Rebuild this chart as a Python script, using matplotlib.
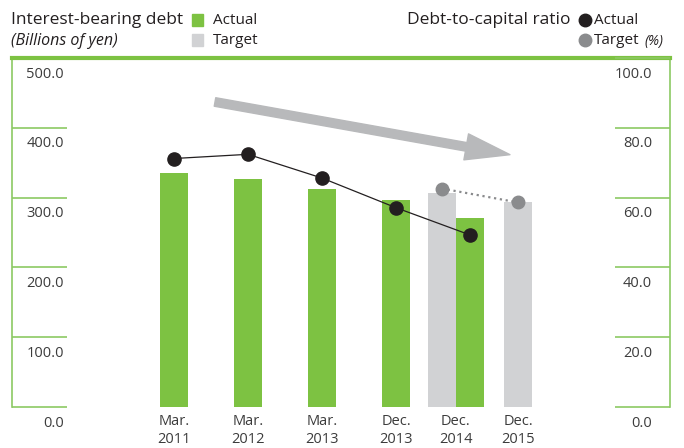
#债务图：有息负债（柱状）与负债资本比率（折线）
import numpy as np
import matplotlib
matplotlib.use('Agg')
import matplotlib.pyplot as plt
import matplotlib.transforms as mtransforms
from matplotlib.patches import Rectangle
from matplotlib.lines import Line2D

plt.rcParams['font.family'] = ['Open Sans', 'DejaVu Sans']

#数据
categories = ['Mar.\n2011', 'Mar.\n2012', 'Mar.\n2013', 'Dec.\n2013', 'Dec.\n2014', 'Dec.\n2015']
debt_actual = [335, 326, 313, 297, 271]      # Mar.2011 ~ Dec.2014
debt_target = [306, 293]                     # Dec.2014, Dec.2015
ratio_actual = [71.2, 72.4, 65.6, 57.1, 49.3]
ratio_target = [62.6, 58.6]
left_ticks = [0, 100, 200, 300, 400, 500]
right_ticks = [0, 20, 40, 60, 80, 100]

#位置
x_actual = np.array([0, 1, 2, 3, 4])
x_target = np.array([3.62, 4.65])
x_labels = [0, 1, 2, 3, 3.81, 4.65]
bar_w = 0.38

GREEN = '#7dc242'
FRAME = '#8cc963'
GREY_BAR = '#d1d2d4'
TEXT = '#231f20'
TICK = '#3c3c3c'

W, H = 684, 448
fig = plt.figure(figsize=(W / 100, H / 100), dpi=100)
ax = fig.add_axes([12 / W, (H - 407) / H, 658 / W, 349 / H])
xmin, xmax = (12 - 174) / 74, (670 - 174) / 74
ax.set_xlim(xmin, xmax)
ax.set_ylim(0, 500)
ax2 = ax.twinx()
ax2.set_ylim(0, 100)

#边框
ax.spines['bottom'].set_visible(False)
ax.spines['top'].set_color(GREEN)
ax.spines['top'].set_linewidth(3)
ax.spines['left'].set_color(FRAME)
ax.spines['left'].set_linewidth(1.2)
ax.spines['right'].set_color(FRAME)
ax.spines['right'].set_linewidth(1.2)
for s in ax2.spines.values():
    s.set_visible(False)

stub = 55 / 74
ax.hlines(left_ticks, xmin, xmin + stub, color=FRAME, lw=1.2, clip_on=False)
ax2.hlines(right_ticks, xmax - stub, xmax, color=FRAME, lw=1.2, clip_on=False)

#刻度标签
off = mtransforms.ScaledTranslation(0, -16 / 100, fig.dpi_scale_trans)
tl = mtransforms.blended_transform_factory(fig.transFigure, ax.transData) + off
tr = mtransforms.blended_transform_factory(fig.transFigure, ax2.transData) + off
for v in left_ticks:
    ax.text(64 / W, v, f'{v:.1f}', transform=tl, ha='right', va='center', fontsize=10.5, color=TICK)
for v in right_ticks:
    ax2.text(652 / W, v, f'{v:.1f}', transform=tr, ha='right', va='center', fontsize=10.5, color=TICK)

ax.set_yticks([])
ax2.set_yticks([])
ax.set_xticks(x_labels)
ax.set_xticklabels(categories, fontsize=10.5, linespacing=1.3, color=TICK)
ax.tick_params(axis='x', length=0, pad=5)

#柱状图
ax.bar(x_target, debt_target, width=bar_w, color=GREY_BAR, zorder=1)
ax.bar(x_actual, debt_actual, width=bar_w, color=GREEN, zorder=2)

#折线
ax2.plot(x_target, ratio_target, ls=':', lw=1.6, color='#8a8b8d', marker='o', ms=9, zorder=3)
ax2.plot(x_actual, ratio_actual, ls='-', lw=0.9, color=TEXT, marker='o', ms=9.5, zorder=4)

#箭头
ax2.annotate('', xy=(4.54, 72.3), xytext=(0.554, 87.4),
             arrowprops=dict(arrowstyle='simple,head_length=3.2,head_width=1.9,tail_width=0.62',
                             color='#b8b9bb', shrinkA=0, shrinkB=0, mutation_scale=10))

#图例
fx = lambda px: px / W
fy = lambda py: 1 - py / H
fig.text(fx(11), fy(20), 'Interest-bearing debt', fontsize=12.5, color=TEXT, va='center')
fig.text(fx(11), fy(41), '(Billions of yen)', fontsize=11.5, style='italic', color=TEXT, va='center')
fig.add_artist(Rectangle((fx(192), fy(26)), 11 / W, 12 / H, color=GREEN, transform=fig.transFigure))
fig.add_artist(Rectangle((fx(192), fy(46)), 11 / W, 12 / H, color=GREY_BAR, transform=fig.transFigure))
fig.text(fx(213), fy(20), 'Actual', fontsize=11, color=TEXT, va='center')
fig.text(fx(213), fy(41), 'Target', fontsize=11, color=TEXT, va='center')

fig.text(fx(407), fy(20), 'Debt-to-capital ratio', fontsize=12.5, color=TEXT, va='center')
fig.add_artist(Line2D([fx(585)], [fy(20)], marker='o', ms=9, color=TEXT, transform=fig.transFigure))
fig.add_artist(Line2D([fx(585)], [fy(40)], marker='o', ms=9, color='#8a8b8d', transform=fig.transFigure))
fig.text(fx(594), fy(20), 'Actual', fontsize=11, color=TEXT, va='center')
fig.text(fx(594), fy(41), 'Target', fontsize=11, color=TEXT, va='center')
fig.text(fx(644), fy(42), '(%)', fontsize=10, style='italic', color=TEXT, va='center')

plt.savefig('out.png', dpi=100)
